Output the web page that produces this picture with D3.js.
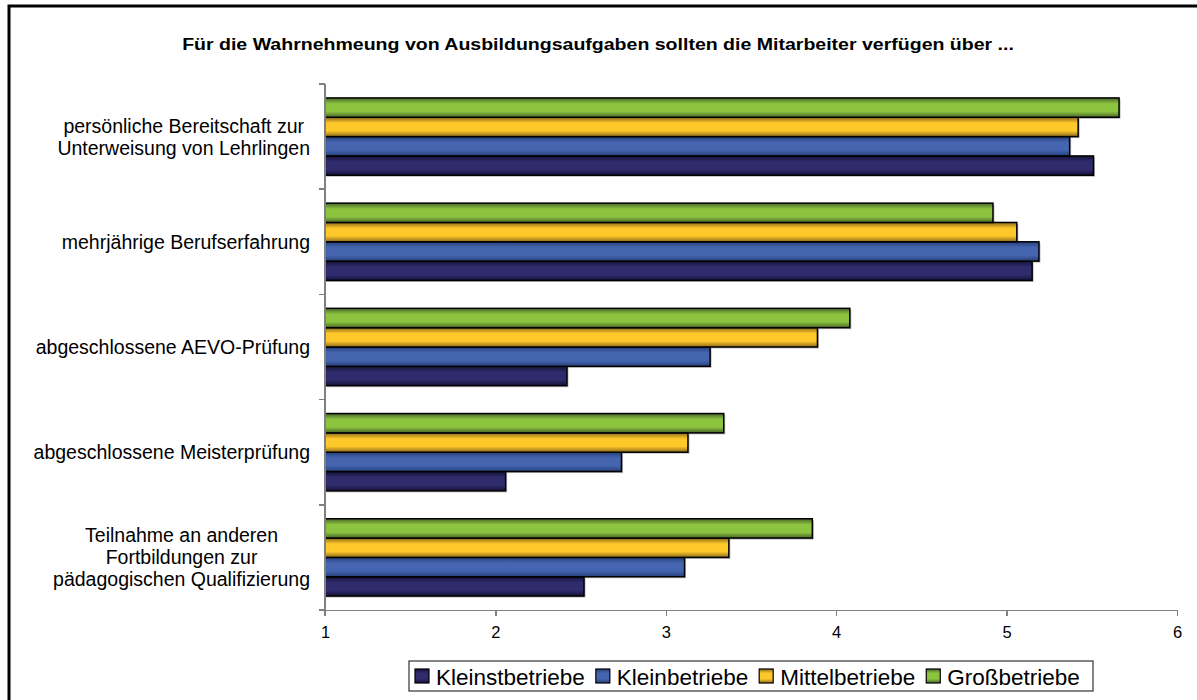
<!DOCTYPE html>
<html lang="de">
<head>
<meta charset="utf-8">
<title>Ausbildungsaufgaben</title>
<script src="https://cdn.jsdelivr.net/npm/d3@7"></script>
<style>
  body { margin: 0; background: #fff; font-family: Arial, "Liberation Sans", sans-serif; }
  .axis path, .axis line { stroke: #808080; stroke-width: 1.5; shape-rendering: crispEdges; }
  .axis text { font-size: 16.5px; fill: #000; font-family: Arial, "Liberation Sans", sans-serif; }
</style>
</head>
<body>
<svg id="chart" width="1197" height="700"></svg>
<script>
var categories = [
  ["persönliche Bereitschaft zur", "Unterweisung von Lehrlingen"],
  ["mehrjährige Berufserfahrung"],
  ["abgeschlossene AEVO-Prüfung"],
  ["abgeschlossene Meisterprüfung"],
  ["Teilnahme an anderen", "Fortbildungen zur", "pädagogischen Qualifizierung"]
];
var seriesNames = ["Kleinstbetriebe", "Kleinbetriebe", "Mittelbetriebe", "Großbetriebe"];
var kleinst = [5.51, 5.15, 2.42, 2.06, 2.52];
var klein   = [5.37, 5.19, 3.26, 2.74, 3.11];
var mittel  = [5.42, 5.06, 3.89, 3.13, 3.37];
var gross   = [5.66, 4.92, 4.08, 3.34, 3.86];
var xTicks = [1, 2, 3, 4, 5, 6];
var title = "Für die Wahrnehmeung von Ausbildungsaufgaben sollten die Mitarbeiter verfügen über ...";

var seriesValues = [kleinst, klein, mittel, gross];
// center, edge colours for the shaded bars
var colors = [
  {mid: "#302b6c", edge: "#15123a"},
  {mid: "#4565b0", edge: "#27407a"},
  {mid: "#ffc82a", edge: "#8a6a1a"},
  {mid: "#8cc43f", edge: "#48652a"}
];

var svg = d3.select("#chart");

// outer frame (right and bottom edges run off the page)
svg.append("rect")
  .attr("x", 9).attr("y", 6)
  .attr("width", 1200).attr("height", 700)
  .attr("fill", "none").attr("stroke", "#000").attr("stroke-width", 3);

var defs = svg.append("defs");
colors.forEach(function(c, i) {
  var gr = defs.append("linearGradient").attr("id", "grad" + i)
    .attr("x1", 0).attr("y1", 0).attr("x2", 0).attr("y2", 1);
  gr.append("stop").attr("offset", "0%").attr("stop-color", c.edge);
  gr.append("stop").attr("offset", "30%").attr("stop-color", c.mid);
  gr.append("stop").attr("offset", "70%").attr("stop-color", c.mid);
  gr.append("stop").attr("offset", "100%").attr("stop-color", c.edge);
});

var plotLeft = 325, plotRight = 1177, plotTop = 84, plotBottom = 610;

var x = d3.scaleLinear().domain([1, 6]).range([plotLeft, plotRight]);
var y0 = d3.scaleBand().domain(d3.range(categories.length)).range([plotTop, plotBottom]).paddingInner(0.265).paddingOuter(0.1325);
var y1 = d3.scaleBand().domain([3, 2, 1, 0]).range([0, y0.bandwidth()]);

// title (slightly stretched like the original)
svg.append("text")
  .attr("transform", "translate(598,50) scale(1.15,1)")
  .attr("text-anchor", "middle")
  .style("font-size", "17px").style("font-weight", "bold")
  .text(title);

// bars
var groups = svg.append("g").selectAll("g")
  .data(categories)
  .join("g")
  .attr("transform", function(d, i) { return "translate(0," + y0(i) + ")"; });

groups.selectAll("rect.shadow")
  .data(function(d, i) { return seriesValues.map(function(s, k) { return {k: k, v: s[i]}; }); })
  .join("rect")
  .attr("class", "shadow")
  .attr("x", x(1) + 1.5)
  .attr("y", function(d) { return y1(d.k) + 1.5; })
  .attr("width", function(d) { return x(d.v) - x(1); })
  .attr("height", y1.bandwidth())
  .attr("fill", "#bbb");

groups.selectAll("rect.bar")
  .data(function(d, i) { return seriesValues.map(function(s, k) { return {k: k, v: s[i]}; }); })
  .join("rect")
  .attr("class", "bar")
  .attr("x", x(1))
  .attr("y", function(d) { return y1(d.k); })
  .attr("width", function(d) { return x(d.v) - x(1); })
  .attr("height", y1.bandwidth())
  .attr("fill", function(d) { return "url(#grad" + d.k + ")"; })
  .attr("stroke", "#000").attr("stroke-width", 1.5);

// x axis
svg.append("g")
  .attr("class", "axis")
  .attr("transform", "translate(0," + plotBottom + ")")
  .call(d3.axisBottom(x).tickValues(xTicks).tickFormat(d3.format("d")).tickSize(6).tickPadding(10).tickSizeOuter(0));

// y axis with ticks between categories
var yLine = svg.append("g").attr("class", "axis");
yLine.append("line").attr("x1", plotLeft).attr("x2", plotLeft).attr("y1", plotTop).attr("y2", plotBottom + 6);
var step = (plotBottom - plotTop) / categories.length;
d3.range(categories.length + 1).forEach(function(i) {
  yLine.append("line")
    .attr("x1", plotLeft - 6).attr("x2", plotLeft)
    .attr("y1", plotTop + i * step).attr("y2", plotTop + i * step);
});

// category labels, lines centred, block right-aligned
categories.forEach(function(lines, i) {
  var g = svg.append("g");
  var cy = y0(i) + y0.bandwidth() / 2;
  var lh = 22;
  var texts = lines.map(function(t, j) {
    return g.append("text")
      .attr("y", cy + (j - (lines.length - 1) / 2) * lh + 7)
      .attr("text-anchor", "middle")
      .style("font-size", "19.5px")
      .text(t);
  });
  var w = d3.max(texts, function(t) { return t.node().getComputedTextLength(); });
  texts.forEach(function(t) { t.attr("x", 310 - w / 2); });
});

// legend
var legend = svg.append("g");
legend.append("rect")
  .attr("x", 409).attr("y", 661).attr("width", 684).attr("height", 30)
  .attr("fill", "#fff").attr("stroke", "#333").attr("stroke-width", 1.2);
var lx = 415;
seriesNames.forEach(function(name, k) {
  legend.append("rect")
    .attr("x", lx).attr("y", 669).attr("width", 14).attr("height", 14)
    .attr("fill", "url(#grad" + k + ")").attr("stroke", "#000").attr("stroke-width", 1.2);
  var t = legend.append("text")
    .attr("x", lx + 21).attr("y", 685)
    .style("font-size", "22.5px")
    .text(name);
  lx += 21 + t.node().getComputedTextLength() + 11;
});
</script>
</body>
</html>
